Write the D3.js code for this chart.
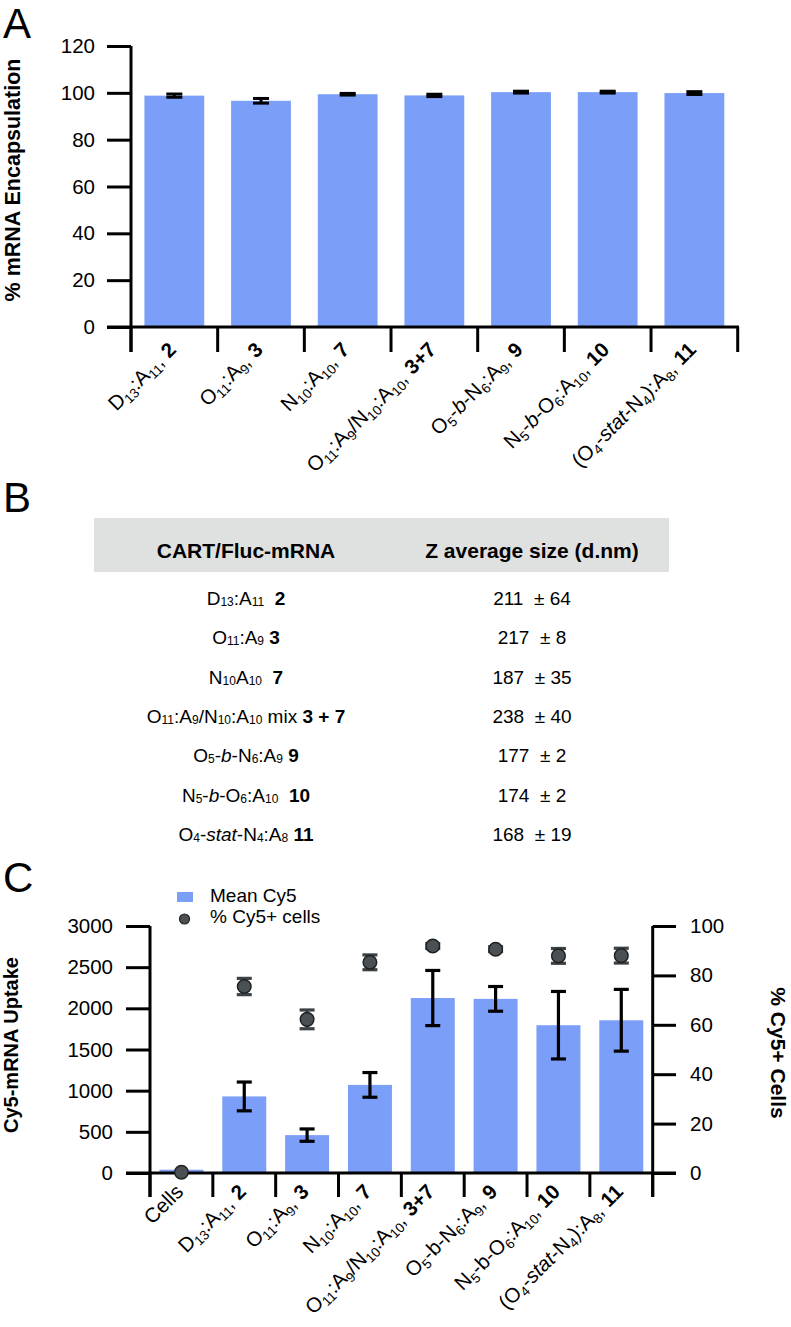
<!DOCTYPE html>
<html>
<head>
<meta charset="utf-8">
<script src="https://cdn.jsdelivr.net/npm/d3@7"></script>
<style>
  body { margin: 0; background: #fff; }
  svg { display: block; font-family: "Liberation Sans", Arial, Helvetica, sans-serif; }
  text { fill: #000; }
</style>
</head>
<body>
<script>
// ---------------- DATA ----------------
// Panel A: % mRNA encapsulation
const encLabels = ["D_{13}:A_{11}, **2**", "O_{11}:A_{9}, **3**", "N_{10}:A_{10}, **7**",
  "O_{11}:A_{9}/N_{10}:A_{10}, **3+7**", "O_{5}-*b*-N_{6}:A_{9}, **9**",
  "N_{5}-*b*-O_{6}:A_{10}, **10**", "(O_{4}-*stat*-N_{4}):A_{8}, **11**"];
const encValues = [98.8, 96.6, 99.4, 98.9, 100.3, 100.3, 99.9];
const encErrors = [0.7, 1.0, 0.35, 0.5, 0.4, 0.4, 0.6];
const encTicks = [0, 20, 40, 60, 80, 100, 120];

// Panel B: table
const tableHeader = ["CART/Fluc-mRNA", "Z average size (d.nm)"];
const tableLabels = ["D_{13}:A_{11}  **2**", "O_{11}:A_{9} **3**", "N_{10}A_{10}  **7**",
  "O_{11}:A_{9}/N_{10}:A_{10} mix **3 + 7**", "O_{5}-*b*-N_{6}:A_{9} **9**",
  "N_{5}-*b*-O_{6}:A_{10}  **10**", "O_{4}-*stat*-N_{4}:A_{8} **11**"];
const tableSize = [211, 217, 187, 238, 177, 174, 168];
const tableSD = [64, 8, 35, 40, 2, 2, 19];

// Panel C: Cy5-mRNA uptake
const uptakeLabels = ["Cells", "D_{13}:A_{11}, **2**", "O_{11}:A_{9}, **3**", "N_{10}:A_{10}, **7**",
  "O_{11}:A_{9}/N_{10}:A_{10}, **3+7**", "O_{5}-b-N_{6}:A_{9}, **9**",
  "N_{5}-b-O_{6}:A_{10}, **10**", "(O_{4}-*stat*-N_{4}):A_{8}, **11**"];
const meanCy5 = [40, 930, 460, 1070, 2125, 2115, 1795, 1855];
const meanCy5Err = [0, 175, 75, 150, 335, 150, 410, 375];
const pctCy5 = [0.3, 75.5, 62.2, 85.3, 91.9, 90.6, 87.9, 88.0];
const pctCy5Err = [0, 3.3, 3.8, 3.0, 1.0, 1.0, 3.0, 3.0];
const uptakeTicksLeft = [0, 500, 1000, 1500, 2000, 2500, 3000];
const uptakeTicksRight = [0, 20, 40, 60, 80, 100];
const legendLabels = ["Mean Cy5", "% Cy5+ cells"];

// ---------------- HELPERS ----------------
const BAR = "#7b9ef8";
const AX = 3;
function richText(sel, str, opts) {
  const re = /_\{([^}]*)\}|\*\*([^*]+)\*\*|\*([^*]+)\*|([^_*]+)/g;
  let m, shift = 0;
  while ((m = re.exec(str))) {
    const t = sel.append("tspan");
    let target = 0;
    if (m[1] !== undefined) { t.text(m[1]).attr("font-size", opts.subSize); target = opts.subShift; }
    else if (m[2] !== undefined) { t.text(m[2]).attr("font-weight", "bold"); }
    else if (m[3] !== undefined) { t.text(m[3]).attr("font-style", "italic"); }
    else { t.text(m[4]); }
    if (target !== shift) { t.attr("dy", target - shift); shift = target; }
  }
}
function styleAxis(g, fs) {
  g.select(".domain").remove();
  g.selectAll(".tick line").attr("stroke", "#000").attr("stroke-width", AX);
  g.selectAll(".tick text").attr("font-size", fs).attr("fill", "#000")
    .attr("font-family", "Liberation Sans, Arial, sans-serif");
}
function boundaries(x) {
  const half = (x.step() - x.bandwidth()) / 2;
  const b = x.domain().map(d => x(d) - half);
  b.push(x.range()[1]);
  return b;
}

const svg = d3.select("body").append("svg").attr("width", 791).attr("height", 1327);

// ---------------- PANEL A ----------------
svg.append("text").attr("x", 3).attr("y", 38).attr("font-size", 42).text("A");
const gA = svg.append("g");
const yA = d3.scaleLinear().domain([0, 120]).range([327, 46]);
const xA = d3.scaleBand().domain(d3.range(encLabels.length)).range([131, 737.7])
  .paddingInner(0.31).paddingOuter(0.155);

gA.selectAll("rect.bar").data(encValues).join("rect").attr("class", "bar")
  .attr("x", (d, i) => xA(i)).attr("y", d => yA(d))
  .attr("width", xA.bandwidth()).attr("height", d => yA(0) - yA(d)).attr("fill", BAR);

gA.selectAll("g.err").data(encValues).join("g").attr("class", "err").each(function (d, i) {
  const cx = xA(i) + xA.bandwidth() / 2, e = encErrors[i], g = d3.select(this);
  g.append("line").attr("x1", cx).attr("x2", cx).attr("y1", yA(d - e)).attr("y2", yA(d + e));
  [d - e, d + e].forEach(v => g.append("line").attr("x1", cx - 8).attr("x2", cx + 8).attr("y1", yA(v)).attr("y2", yA(v)));
  g.selectAll("line").attr("stroke", "#000").attr("stroke-width", 3);
});

const axA = gA.append("g").attr("transform", "translate(131,0)")
  .call(d3.axisLeft(yA).tickValues(encTicks).tickFormat(d3.format("d")).tickSize(24).tickPadding(12));
styleAxis(axA, 20.5);
gA.append("line").attr("x1", 131).attr("x2", 131).attr("y1", yA(120)).attr("y2", 352)
  .attr("stroke", "#000").attr("stroke-width", AX);
gA.append("line").attr("x1", 107).attr("x2", 739).attr("y1", yA(0)).attr("y2", yA(0))
  .attr("stroke", "#000").attr("stroke-width", AX);
gA.selectAll("line.bt").data(boundaries(xA)).join("line").attr("class", "bt")
  .attr("x1", d => d).attr("x2", d => d).attr("y1", yA(0)).attr("y2", 352)
  .attr("stroke", "#000").attr("stroke-width", AX);
gA.selectAll("text.xl").data(encLabels).join("text").attr("class", "xl")
  .attr("font-size", 20.5).attr("text-anchor", "end")
  .attr("transform", (d, i) => `translate(${xA(i) + xA.bandwidth() / 2 + 3},351) rotate(-45)`)
  .each(function (d) { richText(d3.select(this), d, { subSize: 13.5, subShift: 4 }); });
svg.append("text").attr("transform", "translate(20,180) rotate(-90)").attr("text-anchor", "middle")
  .attr("font-size", 21.5).attr("font-weight", "bold").text("% mRNA Encapsulation");

// ---------------- PANEL B ----------------
svg.append("text").attr("x", 3).attr("y", 512).attr("font-size", 42).text("B");
const gB = svg.append("g");
gB.append("rect").attr("x", 94).attr("y", 518).attr("width", 575).attr("height", 54).attr("fill", "#dfe1e1");
const colX = [246, 532];
gB.selectAll("text.h").data(tableHeader).join("text").attr("class", "h")
  .attr("x", (d, i) => colX[i]).attr("y", 558).attr("text-anchor", "middle")
  .attr("font-size", 21).attr("font-weight", "bold").style("white-space", "pre").text(d => d);
const rowY = d3.scaleLinear().domain([0, tableLabels.length - 1]).range([605, 841]);
gB.selectAll("text.rl").data(tableLabels).join("text").attr("class", "rl")
  .attr("x", colX[0]).attr("y", (d, i) => rowY(i)).attr("text-anchor", "middle")
  .attr("font-size", 19).style("white-space", "pre")
  .each(function (d) { richText(d3.select(this), d, { subSize: 12, subShift: 1 }); });
gB.selectAll("text.rv").data(tableSize).join("text").attr("class", "rv")
  .attr("x", colX[1]).attr("y", (d, i) => rowY(i)).attr("text-anchor", "middle")
  .attr("font-size", 19).style("white-space", "pre")
  .text((d, i) => `${d}  \u00b1 ${tableSD[i]}`);

// ---------------- PANEL C ----------------
svg.append("text").attr("x", 3).attr("y", 892).attr("font-size", 42).text("C");
const gC = svg.append("g");
const yL = d3.scaleLinear().domain([0, 3000]).range([1173, 926]);
const yR = d3.scaleLinear().domain([0, 100]).range([1173, 926]);
const xC = d3.scaleBand().domain(d3.range(uptakeLabels.length)).range([150, 652.7])
  .paddingInner(0.3).paddingOuter(0.15);
const cxC = i => xC(i) + xC.bandwidth() / 2;

gC.selectAll("rect.bar").data(meanCy5).join("rect").attr("class", "bar")
  .attr("x", (d, i) => xC(i)).attr("y", d => yL(d))
  .attr("width", xC.bandwidth()).attr("height", d => yL(0) - yL(d)).attr("fill", BAR);

gC.selectAll("g.err").data(meanCy5).join("g").attr("class", "err").each(function (d, i) {
  const e = meanCy5Err[i]; if (!e) return;
  const cx = cxC(i), g = d3.select(this);
  g.append("line").attr("x1", cx).attr("x2", cx).attr("y1", yL(d - e)).attr("y2", yL(d + e));
  [d - e, d + e].forEach(v => g.append("line").attr("x1", cx - 7.5).attr("x2", cx + 7.5).attr("y1", yL(v)).attr("y2", yL(v)));
  g.selectAll("line").attr("stroke", "#000").attr("stroke-width", 3.2);
});

const axL = gC.append("g").attr("transform", "translate(150,0)")
  .call(d3.axisLeft(yL).tickValues(uptakeTicksLeft).tickFormat(d3.format("d")).tickSize(24).tickPadding(13));
styleAxis(axL, 20.5);
const axR = gC.append("g").attr("transform", "translate(652.7,0)")
  .call(d3.axisRight(yR).tickValues(uptakeTicksRight).tickFormat(d3.format("d")).tickSize(23.3).tickPadding(14));
styleAxis(axR, 20.5);
[150, 652.7].forEach(x => gC.append("line").attr("x1", x).attr("x2", x).attr("y1", yL(3000)).attr("y2", 1197)
  .attr("stroke", "#000").attr("stroke-width", AX));
gC.append("line").attr("x1", 126).attr("x2", 676).attr("y1", yL(0)).attr("y2", yL(0))
  .attr("stroke", "#000").attr("stroke-width", AX);
gC.selectAll("line.bt").data(boundaries(xC)).join("line").attr("class", "bt")
  .attr("x1", d => d).attr("x2", d => d).attr("y1", yL(0)).attr("y2", 1197)
  .attr("stroke", "#000").attr("stroke-width", AX);

gC.selectAll("g.perr").data(pctCy5).join("g").attr("class", "perr").each(function (d, i) {
  const e = pctCy5Err[i]; if (!e) return;
  const cx = cxC(i), g = d3.select(this);
  g.append("line").attr("x1", cx).attr("x2", cx).attr("y1", yR(d - e)).attr("y2", yR(d + e));
  [d - e, d + e].forEach(v => g.append("line").attr("x1", cx - 7.5).attr("x2", cx + 7.5).attr("y1", yR(v)).attr("y2", yR(v)));
  g.selectAll("line").attr("stroke", "#3d4246").attr("stroke-width", 3.2);
});
gC.selectAll("circle.dot").data(pctCy5).join("circle").attr("class", "dot")
  .attr("cx", (d, i) => cxC(i)).attr("cy", d => yR(d)).attr("r", 6.8)
  .attr("fill", "#4b5054").attr("stroke", "#1e2224").attr("stroke-width", 1.5);

gC.selectAll("text.xl").data(uptakeLabels).join("text").attr("class", "xl")
  .attr("font-size", 20.5).attr("text-anchor", "end")
  .attr("transform", (d, i) => `translate(${cxC(i) + 3},1193) rotate(-45)`)
  .each(function (d) { richText(d3.select(this), d, { subSize: 13.5, subShift: 4 }); });

svg.append("text").attr("transform", "translate(18,1045) rotate(-90)").attr("text-anchor", "middle")
  .attr("font-size", 20).attr("font-weight", "bold").text("Cy5-mRNA Uptake");
svg.append("text").attr("transform", "translate(771,1053) rotate(90)").attr("text-anchor", "middle")
  .attr("font-size", 21).attr("font-weight", "bold").text("% Cy5+ Cells");

// legend
const lg = svg.append("g");
lg.append("rect").attr("x", 177).attr("y", 892).attr("width", 16).attr("height", 10).attr("fill", BAR);
lg.append("circle").attr("cx", 184.5).attr("cy", 919).attr("r", 5)
  .attr("fill", "#4b5054").attr("stroke", "#1e2224").attr("stroke-width", 1.2);
lg.selectAll("text").data(legendLabels).join("text")
  .attr("x", 210).attr("y", (d, i) => 902 + i * 21).attr("font-size", 19).text(d => d);
</script>
</body>
</html>
